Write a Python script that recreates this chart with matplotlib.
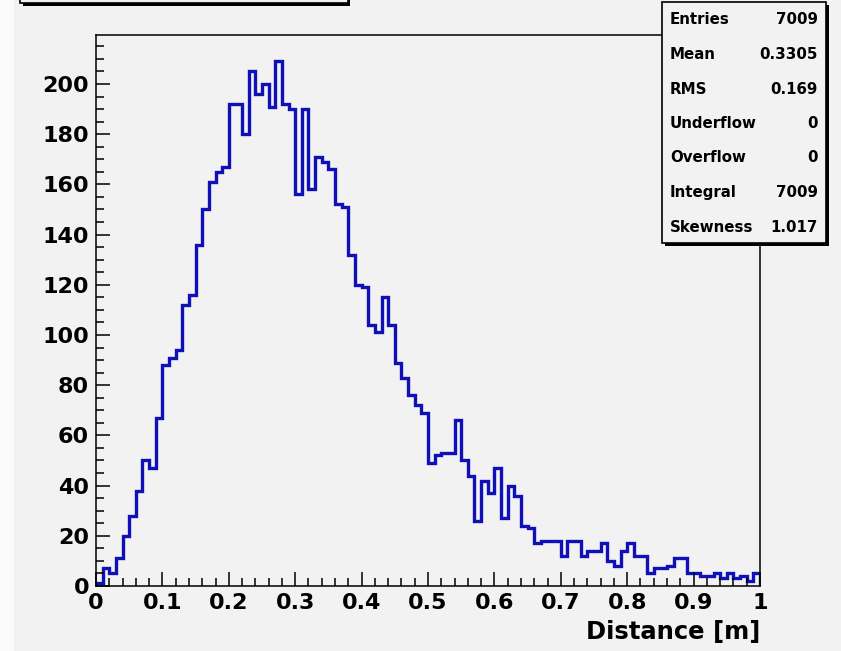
import numpy as np
import matplotlib
matplotlib.use("Agg")
from matplotlib import pyplot as plt
from matplotlib.patches import Rectangle

# bin contents, 100 bins between 0 and 1
counts = [1, 7, 5, 11, 20, 28, 38, 50, 47, 67,
          88, 91, 94, 112, 116, 136, 150, 161, 165, 167,
          192, 192, 180, 205, 196, 200, 191, 209, 192, 190,
          156, 190, 158, 171, 169, 166, 152, 151, 132, 120,
          119, 104, 101, 115, 104, 89, 83, 76, 72, 69,
          49, 52, 53, 53, 66, 50, 44, 26, 42, 37,
          47, 27, 40, 36, 24, 23, 17, 18, 18, 18,
          12, 18, 18, 12, 14, 14, 17, 10, 8, 14,
          17, 12, 12, 5, 7, 7, 8, 11, 11, 5,
          5, 4, 4, 5, 3, 5, 3, 4, 2, 5]
xTicks = [0, 0.1, 0.2, 0.3, 0.4, 0.5, 0.6, 0.7, 0.8, 0.9, 1]
xTickLabels = ["0", "0.1", "0.2", "0.3", "0.4", "0.5", "0.6", "0.7", "0.8", "0.9", "1"]
yTicks = [0, 20, 40, 60, 80, 100, 120, 140, 160, 180, 200]
statNames = ["Entries", "Mean", "RMS", "Underflow", "Overflow", "Integral", "Skewness"]
statValues = ["7009", "0.3305", "0.169", "0", "0", "7009", "1.017"]

W, H = 841, 651
bg = "#f2f2f2"


def fx(px):
    return px / W


def fy(py):
    return 1 - py / H


plt.rcParams['font.family'] = ['DejaVu Sans']
plt.rcParams['font.weight'] = 'bold'

fig = plt.figure(figsize=(W / 100, H / 100), dpi=100, facecolor=bg)
ax = fig.add_axes([fx(96), fy(586), fx(760) - fx(96), fy(35) - fy(586)])
ax.set_facecolor(bg)

edges = np.linspace(0, 1, len(counts) + 1)
ax.stairs(counts, edges, baseline=0, color="#1010b8", linewidth=2.4)

ax.set_xlim(0, 1)
ax.set_ylim(0, 219.5)
ax.set_xticks(xTicks)
ax.set_xticklabels(xTickLabels)
ax.set_yticks(yTicks)
ax.set_yticklabels([str(v) for v in yTicks])
ax.set_xticks(np.arange(0, 1.0001, 0.02), minor=True)
ax.set_yticks(np.arange(0, 219, 5), minor=True)
ax.tick_params(axis="both", which="major", direction="in", length=10, width=1.1,
               labelsize=16, pad=5, top=False, right=False)
ax.tick_params(axis="both", which="minor", direction="in", length=5.5, width=1.1,
               top=False, right=False)
for lab in ax.get_xticklabels() + ax.get_yticklabels():
    lab.set_fontweight("bold")
for sp in ax.spines.values():
    sp.set_linewidth(1.1)

fig.text(fx(760), fy(632), "Distance [m]", ha="right", va="center",
         fontsize=17.5, fontweight="bold")

# left white strip
fig.add_artist(Rectangle((0, 0), fx(14), 1, transform=fig.transFigure,
                         facecolor="#fbfbfb", edgecolor="none"))

# title box (mostly off the top of the picture)
fig.add_artist(Rectangle((fx(23), fy(6)), fx(350) - fx(23), 0.1, transform=fig.transFigure,
                         facecolor="black", edgecolor="none"))
fig.add_artist(Rectangle((fx(20), fy(3)), fx(348) - fx(20), 0.1, transform=fig.transFigure,
                         facecolor=bg, edgecolor="black", linewidth=1.2))

# stats box
fig.add_artist(Rectangle((fx(665), fy(246)), fx(829) - fx(665), fy(5) - fy(246),
                         transform=fig.transFigure, facecolor="black", edgecolor="none"))
fig.add_artist(Rectangle((fx(662), fy(243)), fx(826) - fx(662), fy(2) - fy(243),
                         transform=fig.transFigure, facecolor=bg, edgecolor="black",
                         linewidth=1.2))
rowY = 20
for name, val in zip(statNames, statValues):
    fig.text(fx(670), fy(rowY), name, ha="left", va="center", fontsize=10.8,
             fontweight="bold")
    fig.text(fx(818), fy(rowY), val, ha="right", va="center", fontsize=10.8,
             fontweight="bold")
    rowY += 34.5

fig.savefig("out.png", dpi=100, facecolor=bg)
